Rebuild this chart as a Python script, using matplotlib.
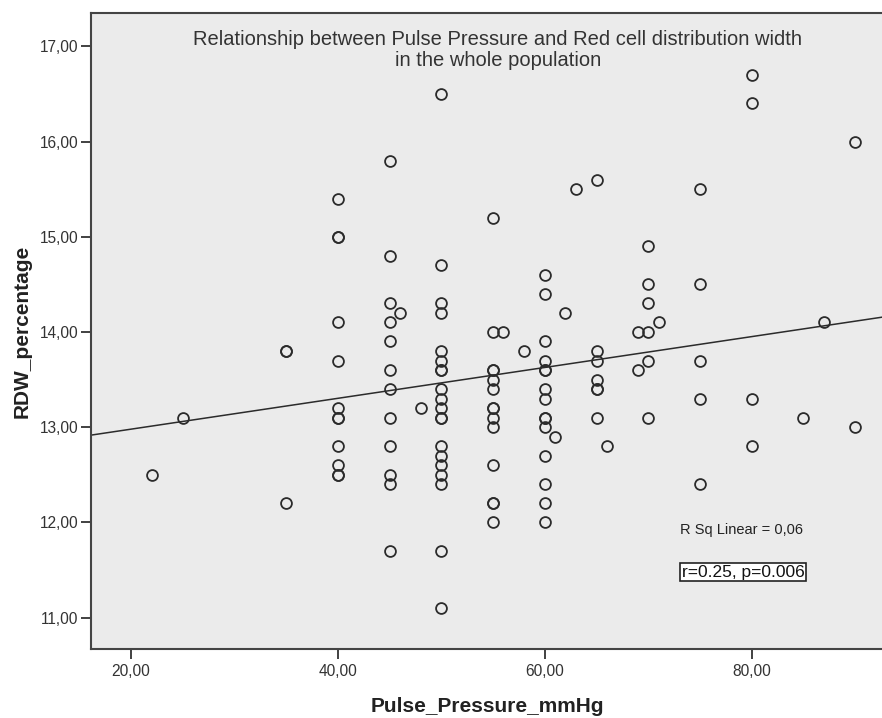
import numpy as np
import matplotlib
matplotlib.use("Agg")
import matplotlib.pyplot as plt

plt.rcParams['font.family'] = ['Liberation Sans', 'DejaVu Sans']

# pulse pressure (mmHg) and RDW (%)
pulse_pressure = [
    22, 25, 35, 35, 35,
    40, 40, 40, 40, 40, 40, 40, 40, 40, 40, 40, 40,
    45, 45, 45, 45, 45, 45, 45, 45, 45, 45, 45, 45, 46,
    48,
    50, 50, 50, 50, 50, 50, 50, 50, 50, 50, 50, 50, 50, 50, 50, 50, 50, 50, 50, 50,
    55, 55, 55, 55, 55, 55, 55, 55, 55, 55, 55, 55, 55, 55,
    56, 58,
    60, 60, 60, 60, 60, 60, 60, 60, 60, 60, 60, 60, 60, 60, 60,
    61, 62, 63,
    65, 65, 65, 65, 65, 65, 65, 66,
    69, 69, 70, 70, 70, 70, 70, 70, 71,
    75, 75, 75, 75, 75,
    80, 80, 80, 80,
    85, 87, 90, 90,
]
rdw = [
    12.5, 13.1, 13.8, 13.8, 12.2,
    15.4, 15.0, 15.0, 14.1, 13.7, 13.2, 13.1, 13.1, 12.8, 12.6, 12.5, 12.5,
    15.8, 14.8, 14.3, 14.1, 13.9, 13.6, 13.4, 13.1, 12.8, 12.5, 12.4, 11.7, 14.2,
    13.2,
    16.5, 14.7, 14.3, 14.2, 13.8, 13.7, 13.6, 13.6, 13.4, 13.3, 13.2, 13.1, 13.1, 12.8, 12.7, 12.6, 12.5, 12.4, 11.7, 11.1,
    15.2, 14.0, 13.6, 13.6, 13.5, 13.4, 13.2, 13.2, 13.1, 13.0, 12.6, 12.2, 12.2, 12.0,
    14.0, 13.8,
    14.6, 14.4, 13.9, 13.7, 13.6, 13.6, 13.4, 13.3, 13.1, 13.1, 13.0, 12.7, 12.4, 12.2, 12.0,
    12.9, 14.2, 15.5,
    15.6, 13.8, 13.7, 13.5, 13.4, 13.4, 13.1, 12.8,
    14.0, 13.6, 14.9, 14.5, 14.3, 14.0, 13.7, 13.1, 14.1,
    15.5, 14.5, 13.7, 13.3, 12.4,
    16.7, 16.4, 13.3, 12.8,
    13.1, 14.1, 16.0, 13.0,
]

# fit line as drawn in the source chart
fit_intercept = 12.655
fit_slope = 0.0162

x_ticks = [20, 40, 60, 80]
y_ticks = [11, 12, 13, 14, 15, 16, 17]
title_text = "Relationship between Pulse Pressure and Red cell distribution width\nin the whole population"
r_sq_text = "R Sq Linear = 0,06"
stats_text = "r=0.25, p=0.006"

W, H = 882, 718
fig = plt.figure(figsize=(W / 100, H / 100), dpi=100)
ax = fig.add_axes([90.7 / W, 1 - 649 / H, 1 - 90.7 / W, (649 - 13) / H])
ax.set_facecolor('#ebebeb')

ax.plot(pulse_pressure, rdw, linestyle='none', marker='o', markersize=7.8,
        markerfacecolor='none', markeredgecolor='#2b2b2b', markeredgewidth=1.3)

xlim = (16.1, 92.6)
xs = np.array(xlim)
ax.plot(xs, fit_intercept + fit_slope * xs, color='#2b2b2b', linewidth=1.1)

ax.set_xlim(*xlim)
ax.set_ylim(10.67, 17.35)
ax.set_xticks(x_ticks)
ax.set_xticklabels([f"{v:.2f}".replace('.', ',') for v in x_ticks])
ax.set_yticks(y_ticks)
ax.set_yticklabels([f"{v:.2f}".replace('.', ',') for v in y_ticks])
ax.tick_params(axis='both', direction='out', length=7.5, width=1.3, color='#333333',
               labelsize=11.2, labelcolor='#333333')
ax.tick_params(axis='y', pad=1.5)
ax.tick_params(axis='x', pad=3)

for side in ['left', 'bottom', 'top']:
    ax.spines[side].set_color('#444444')
    ax.spines[side].set_linewidth(1.5)
ax.spines['right'].set_visible(False)

fig.text(498 / W, 1 - 50 / H, title_text, ha='center', va='center', multialignment='center',
         fontsize=14.5, color='#333333', linespacing=1.12)

fig.text(487 / W, 1 - 706 / H, "Pulse_Pressure_mmHg", ha='center', va='center',
         fontsize=15, fontweight='bold', color='#222222')
fig.text(22 / W, 1 - 331 / H, "RDW_percentage", ha='center', va='center', rotation=90,
         fontsize=15, fontweight='bold', color='#222222')

fig.text(741.7 / W, 1 - 530 / H, r_sq_text, ha='center', va='center',
         fontsize=10.5, color='#222222')
fig.text(743 / W, 1 - 572 / H, stats_text, ha='center', va='center',
         fontsize=12.5, color='#111111',
         bbox=dict(boxstyle='square,pad=0.1', facecolor='white', edgecolor='#222222', linewidth=1.2))

fig.savefig('out.png', dpi=100)
